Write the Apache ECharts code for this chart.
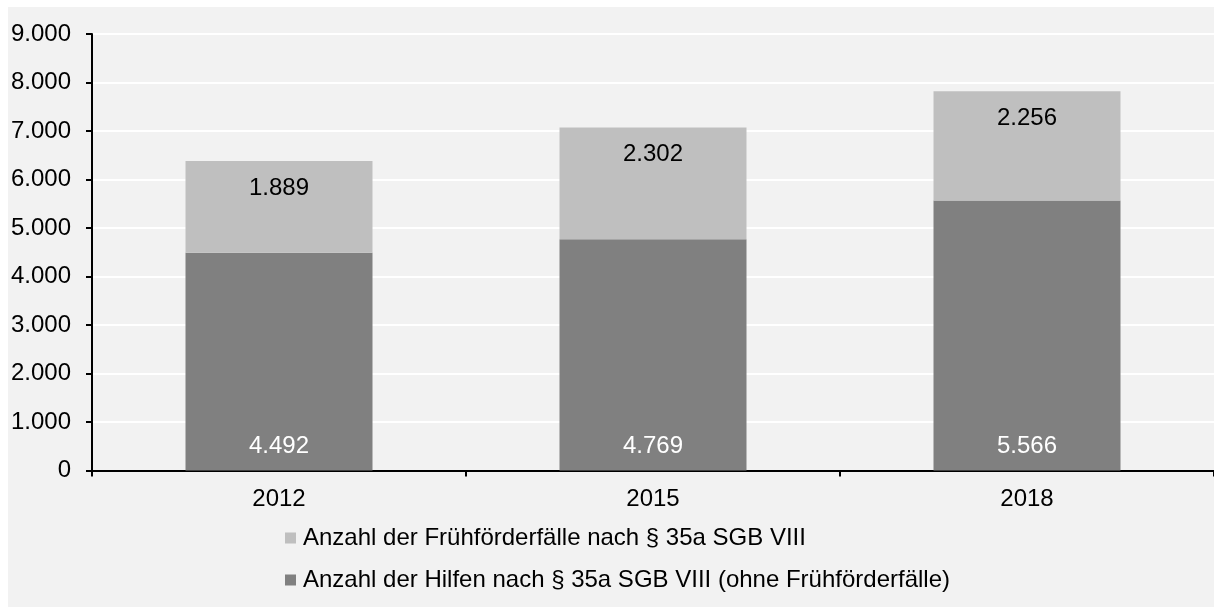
<!DOCTYPE html>
<html>
<head>
<meta charset="utf-8">
<script src="https://cdn.jsdelivr.net/npm/echarts@6/dist/echarts.min.js"></script>
<style>html,body{margin:0;padding:0;background:#fff;}#c{width:1214px;height:607px;}</style>
</head>
<body>
<div id="c"></div>
<script>
const categories = ['2012', '2015', '2018'];
const hilfen = [4492, 4769, 5566];
const fruehfoerderung = [1889, 2302, 2256];
const seriesNames = ['Anzahl der Hilfen nach § 35a SGB VIII (ohne Frühförderfälle)', 'Anzahl der Frühförderfälle nach § 35a SGB VIII'];

function de(v){ return String(v).replace(/\B(?=(\d{3})+(?!\d))/g, '.'); }
const FONT = '"Liberation Sans", Arial, sans-serif';

const chart = echarts.init(document.getElementById('c'), null, {renderer: 'canvas'});
chart.setOption({
  backgroundColor: '#ffffff',
  animation: false,
  textStyle: {fontFamily: FONT},
  graphic: [{type: 'rect', z: -10, shape: {x: 8, y: 7, width: 1206, height: 600}, style: {fill: '#f2f2f2'}}],
  grid: {left: 92, top: 34, bottom: 136.5, right: -3},
  legend: {
    orient: 'vertical', left: 285, top: 526, padding: 0, itemWidth: 11, itemHeight: 11, itemGap: 18,
    icon: 'rect',
    data: [seriesNames[1], seriesNames[0]],
    textStyle: {fontFamily: FONT, fontSize: 24, color: '#000', lineHeight: 24, padding: [0, 0, 0, 2]}
  },
  xAxis: {
    type: 'category', data: categories,
    axisLine: {lineStyle: {color: '#000', width: 2}},
    axisTick: {show: true, length: 6, lineStyle: {color: '#000', width: 2}},
    axisLabel: {color: '#000', fontSize: 24, fontFamily: FONT, margin: 17}
  },
  yAxis: {
    type: 'value', min: 0, max: 9000, interval: 1000,
    axisLine: {show: true, lineStyle: {color: '#000', width: 2}},
    axisTick: {show: true, length: 6, lineStyle: {color: '#000', width: 2}},
    splitLine: {lineStyle: {color: '#ffffff', width: 2}},
    axisLabel: {color: '#000', fontSize: 24, fontFamily: FONT, margin: 21, formatter: v => de(v)}
  },
  series: [
    {name: seriesNames[0], type: 'bar', stack: 's', data: hilfen, barWidth: '50%',
     itemStyle: {color: '#808080'},
     label: {show: true, position: 'insideBottom', distance: 12, color: '#ffffff', fontSize: 24, fontFamily: FONT, formatter: p => de(p.value)}},
    {name: seriesNames[1], type: 'bar', stack: 's', data: fruehfoerderung, barWidth: '50%',
     itemStyle: {color: '#bfbfbf'},
     label: {show: true, position: 'insideTop', distance: 15, color: '#000', fontSize: 24, fontFamily: FONT, formatter: p => de(p.value)}}
  ]
});
</script>
</body>
</html>
